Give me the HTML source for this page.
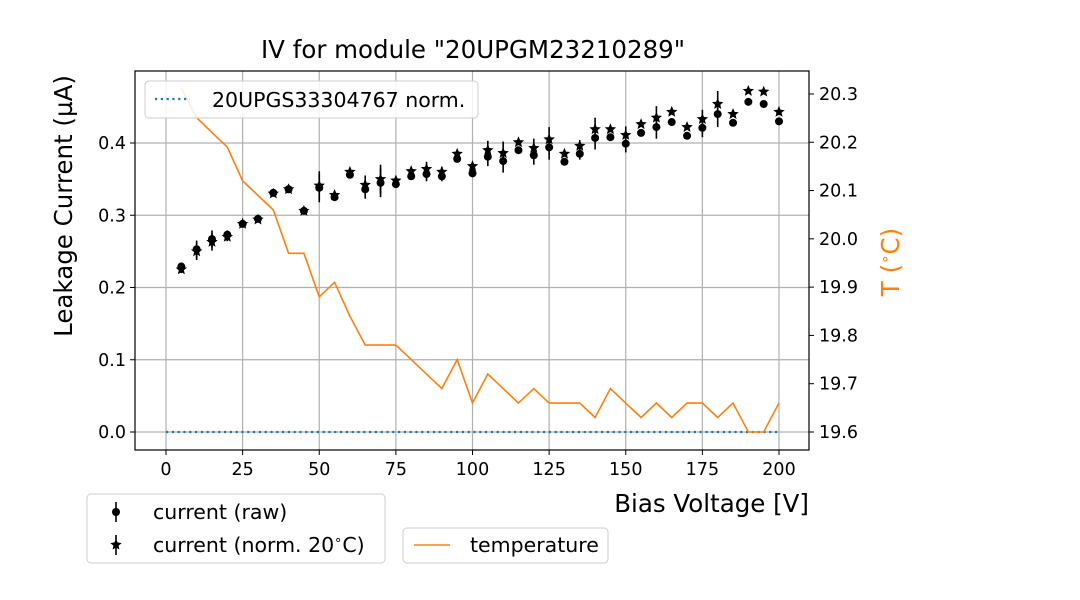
<!DOCTYPE html>
<html><head><meta charset="utf-8"><style>
body{margin:0;background:#fff}
svg{display:block;font-family:"DejaVu Sans","Liberation Sans",sans-serif}
</style></head><body>
<svg id="chart" width="1080" height="600" viewBox="0 0 1080 600">
<rect width="1080" height="600" fill="#fff"/>
<g id="grid"></g><g id="marks"></g><g id="axes"></g><g id="legends"></g>
</svg>
<script>
const voltages=[5,10,15,20,25,30,35,40,45,50,55,60,65,70,75,80,85,90,95,100,105,110,115,120,125,130,135,140,145,150,155,160,165,170,175,180,185,190,195,200];
const rawCurrent=[0.229,0.253,0.267,0.273,0.288,0.295,0.331,0.336,0.306,0.338,0.325,0.356,0.336,0.345,0.343,0.354,0.357,0.354,0.378,0.358,0.381,0.375,0.390,0.383,0.394,0.374,0.385,0.407,0.408,0.399,0.414,0.422,0.429,0.410,0.421,0.440,0.428,0.457,0.454,0.430];
const normCurrent=[0.225,0.250,0.263,0.270,0.288,0.294,0.330,0.336,0.306,0.341,0.328,0.360,0.342,0.350,0.348,0.361,0.364,0.360,0.385,0.368,0.390,0.386,0.401,0.393,0.405,0.385,0.396,0.419,0.419,0.411,0.426,0.435,0.443,0.422,0.433,0.454,0.440,0.472,0.471,0.443];
const currentErr=[0.005,0.012,0.012,0.006,0.004,0.004,0.003,0.004,0.003,0.020,0.004,0.004,0.013,0.020,0.005,0.005,0.010,0.007,0.004,0.005,0.013,0.016,0.004,0.013,0.017,0.004,0.008,0.016,0.004,0.012,0.003,0.016,0.003,0.003,0.013,0.018,0.004,0.003,0.003,0.004];
const temperature=[20.312,20.251,20.22,20.19,20.12,20.09,20.06,19.97,19.97,19.88,19.91,19.84,19.78,19.78,19.78,19.75,19.72,19.69,19.75,19.66,19.72,19.69,19.66,19.69,19.66,19.66,19.66,19.63,19.69,19.66,19.63,19.66,19.63,19.66,19.66,19.63,19.66,19.60,19.60,19.66];
const refVoltages=[0,200];
const refCurrent=[0,0];
const xTicks=[0,25,50,75,100,125,150,175,200];
const yTicks=[0.0,0.1,0.2,0.3,0.4];
const y2Ticks=[19.6,19.7,19.8,19.9,20.0,20.1,20.2,20.3];

const L=135,R=809,T=71,B=450;
const xs=v=>166+(v-0)*(779-166)/200;
const ys=c=>432-c*722.5;
const y2s=t=>432-(t-19.6)*482.9;
const NS='http://www.w3.org/2000/svg';
function mk(tag,attrs,parent,txt){const e=document.createElementNS(NS,tag);for(const k in attrs)e.setAttribute(k,attrs[k]);if(txt!==undefined)e.textContent=txt;parent.appendChild(e);return e;}
const grid=document.getElementById('grid'),marks=document.getElementById('marks'),axes=document.getElementById('axes'),leg=document.getElementById('legends');

xTicks.forEach(v=>{const g=mk('line',{x1:xs(v),x2:xs(v),y1:T,y2:B,stroke:'#b0b0b0','stroke-width':1.2},grid);
});
yTicks.forEach(v=>{const g=mk('line',{x1:L,x2:R,y1:ys(v),y2:ys(v),stroke:'#b0b0b0','stroke-width':1.2},grid);
});

const ref=mk('polyline',{points:refVoltages.map((v,i)=>xs(v)+','+ys(refCurrent[i])).join(' '),fill:'none',stroke:'#1f77b4','stroke-width':2.2,'stroke-dasharray':'2.2 3.6'},marks);


const tl=mk('polyline',{points:voltages.map((v,i)=>xs(v)+','+y2s(temperature[i])).join(' '),fill:'none',stroke:'#ff7f0e','stroke-width':1.6},marks);


function star(cx,cy,r){let p=[];for(let i=0;i<10;i++){const a=-Math.PI/2+i*Math.PI/5;const rr=i%2?r*0.45:r;p.push((cx+rr*Math.cos(a)).toFixed(2)+','+(cy+rr*Math.sin(a)).toFixed(2));}return p.join(' ');}
voltages.forEach((v,i)=>{
 const x=xs(v);
 const e1=mk('line',{x1:x,x2:x,y1:ys(rawCurrent[i]-currentErr[i]),y2:ys(rawCurrent[i]+currentErr[i]),stroke:'#000','stroke-width':1.6},marks);
 
 const e2=mk('line',{x1:x,x2:x,y1:ys(normCurrent[i]-currentErr[i]),y2:ys(normCurrent[i]+currentErr[i]),stroke:'#000','stroke-width':1.6},marks);
 
 const c=mk('circle',{cx:x,cy:ys(rawCurrent[i]),r:4,fill:'#000'},marks);
 
 const s=mk('polygon',{points:star(x,ys(normCurrent[i]),6),fill:'#000'},marks);
 
});

const fr=mk('rect',{x:L,y:T,width:R-L,height:B-T,fill:'none',stroke:'#000','stroke-width':1.2},axes);

xTicks.forEach(v=>{mk('line',{x1:xs(v),x2:xs(v),y1:B,y2:B+5,stroke:'#000'},axes);
 const t=mk('text',{x:xs(v),y:B+25,'text-anchor':'middle','font-size':17.5},axes,String(v));
 });
yTicks.forEach(v=>{mk('line',{x1:L-5,x2:L,y1:ys(v),y2:ys(v),stroke:'#000'},axes);
 const t=mk('text',{x:L-9,y:ys(v)+6,'text-anchor':'end','font-size':17.5},axes,v.toFixed(1));
 });
y2Ticks.forEach(v=>{mk('line',{x1:R,x2:R+5,y1:y2s(v),y2:y2s(v),stroke:'#000'},axes);
 const t=mk('text',{x:R+10,y:y2s(v)+6,'font-size':17.5},axes,v.toFixed(1));
 });
</script>
<script>
const ax=document.getElementById('axes');
ax.insertAdjacentHTML('beforeend',
'<text x="473" y="58" text-anchor="middle" font-size="24.5">IV for module "20UPGM23210289"</text>'+
'<text x="809" y="512" text-anchor="end" font-size="24.5">Bias Voltage [V]</text>'+
'<text transform="translate(72,206) rotate(-90)" text-anchor="middle" font-size="24.5">Leakage Current (µA)</text>'+
'<text transform="translate(899,262) rotate(-90)" text-anchor="middle" font-size="24.5" fill="#ff7f0e">T (<tspan font-size="15" dy="-9">∘</tspan><tspan dy="9">C)</tspan></text>');
document.getElementById('legends').insertAdjacentHTML('beforeend',
'<g><rect x="145" y="81" width="333" height="37" rx="4" fill="#fff" fill-opacity="0.85" stroke="#ccc"/><line x1="155" y1="99" x2="190" y2="99" stroke="#1f77b4" stroke-width="2.2" stroke-dasharray="2.2 3.6"/><text x="212" y="107" font-size="20.5">20UPGS33304767 norm.</text></g>'+
'<g><rect x="87" y="494" width="298" height="69" rx="4" fill="#fff" stroke="#ccc"/><line x1="116" y1="502" x2="116" y2="522" stroke="#000" stroke-width="1.6"/><circle cx="116" cy="512" r="4"/><text x="153" y="519" font-size="20.5">current (raw)</text><line x1="116" y1="535" x2="116" y2="555" stroke="#000" stroke-width="1.6"/><polygon points="116,539 117.6,542.4 121.7,543.1 118.6,545.6 119.4,549.5 116,547.6 112.6,549.5 113.4,545.6 110.3,543.1 114.4,542.4"/><text x="153" y="552" font-size="20.5">current (norm. 20<tspan font-size="13" dy="-8">∘</tspan><tspan dy="8">C)</tspan></text></g>'+
'<g><rect x="403" y="528" width="205" height="35" rx="4" fill="#fff" stroke="#ccc"/><line x1="414" y1="545" x2="450" y2="545" stroke="#ff7f0e" stroke-width="1.6"/><text x="470" y="552" font-size="20.5">temperature</text></g>');
</script>
</body></html>
